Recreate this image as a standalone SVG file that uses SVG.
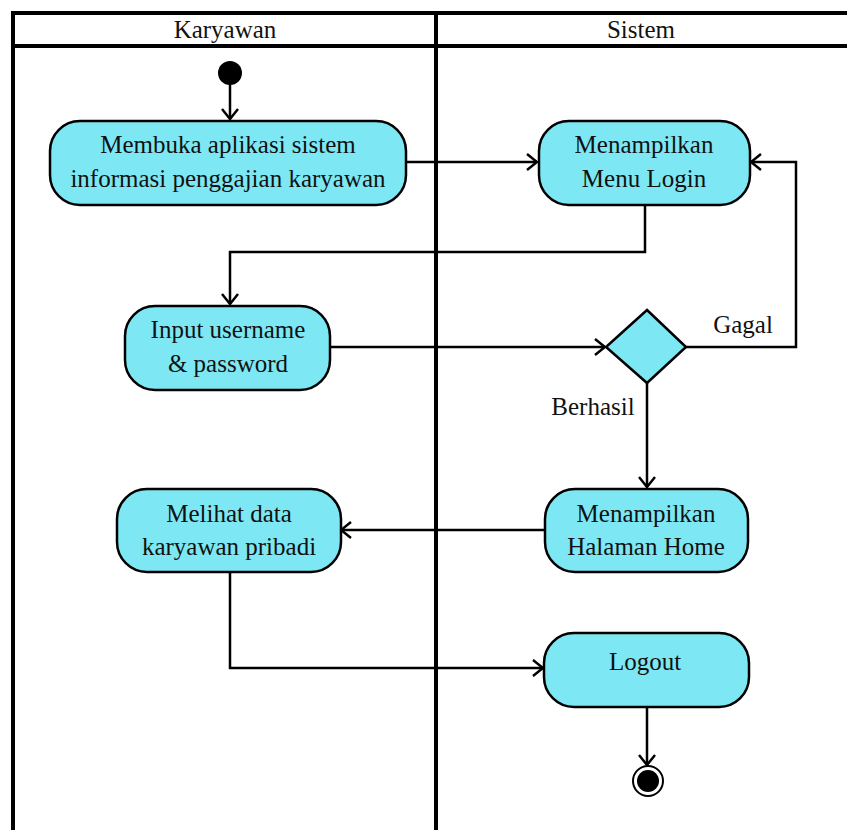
<svg xmlns="http://www.w3.org/2000/svg" width="847" height="830" viewBox="0 0 847 830">
  <style>
    .lane { stroke: #000; stroke-width: 4; fill: none; }
    .act { fill: #7de8f4; stroke: #000; stroke-width: 2.5; }
    .flow { stroke: #000; stroke-width: 2.5; fill: none; }
    text { font-family: "Liberation Serif", "Times New Roman", serif; font-size: 25px; fill: #111; text-anchor: middle; }
  </style>
  <defs>
    <marker id="open-arrow" viewBox="0 0 12 18" refX="11" refY="9" markerWidth="12" markerHeight="18" markerUnits="userSpaceOnUse" orient="auto">
      <path d="M1,1 L11,9 L1,17" fill="none" stroke="#000" stroke-width="2.5"/>
    </marker>
  </defs>
  <rect x="0" y="0" width="847" height="830" fill="#fff"/>

  <!-- swimlane frame -->
  <g id="swimlanes">
    <line class="lane" x1="13" y1="13" x2="847" y2="13"/>
    <line class="lane" x1="13" y1="46" x2="847" y2="46"/>
    <line class="lane" x1="13" y1="11" x2="13" y2="830"/>
    <line class="lane" x1="436" y1="11" x2="436" y2="830"/>
    <text x="225" y="38">Karyawan</text>
    <text x="641" y="38">Sistem</text>
  </g>

  <!-- connectors -->
  <g id="connectors">
    <path class="flow" d="M230,84 L230,119" marker-end="url(#open-arrow)"/>
    <path class="flow" d="M406,162 L537,162" marker-end="url(#open-arrow)"/>
    <path class="flow" d="M645,205 L645,252 L230,252 L230,304" marker-end="url(#open-arrow)"/>
    <path class="flow" d="M330,347 L605,347" marker-end="url(#open-arrow)"/>
    <path class="flow" d="M686,347 L796,347 L796,162 L751,162" marker-end="url(#open-arrow)"/>
    <path class="flow" d="M647,383 L647,487" marker-end="url(#open-arrow)"/>
    <path class="flow" d="M545,530 L341,530" marker-end="url(#open-arrow)"/>
    <path class="flow" d="M230,572 L230,668 L543,668" marker-end="url(#open-arrow)"/>
    <path class="flow" d="M647,707 L647,765" marker-end="url(#open-arrow)"/>
    <text x="743" y="333">Gagal</text>
    <text x="593" y="415">Berhasil</text>
  </g>

  <g id="start">
    <circle cx="230" cy="73" r="12" fill="#000"/>
  </g>

  <g id="buka-aplikasi">
    <rect class="act" x="50" y="121" width="356" height="84" rx="30"/>
    <text x="228" y="153">Membuka aplikasi sistem</text>
    <text x="228" y="187">informasi penggajian karyawan</text>
  </g>

  <g id="menu-login">
    <rect class="act" x="539" y="121" width="211" height="84" rx="30"/>
    <text x="644" y="153">Menampilkan</text>
    <text x="644" y="187">Menu Login</text>
  </g>

  <g id="input-login">
    <rect class="act" x="125" y="306" width="205" height="84" rx="30"/>
    <text x="228" y="338">Input username</text>
    <text x="228" y="372">&amp; password</text>
  </g>

  <g id="cek-login">
    <polygon class="act" points="647,310 686,347 647,383 606,347"/>
  </g>

  <g id="halaman-home">
    <rect class="act" x="545" y="489" width="203" height="83" rx="30"/>
    <text x="646" y="522">Menampilkan</text>
    <text x="646" y="555">Halaman Home</text>
  </g>

  <g id="data-pribadi">
    <rect class="act" x="117" y="489" width="224" height="83" rx="30"/>
    <text x="229" y="522">Melihat data</text>
    <text x="229" y="555">karyawan pribadi</text>
  </g>

  <g id="logout">
    <rect class="act" x="544" y="633" width="205" height="74" rx="30"/>
    <text x="645" y="670">Logout</text>
  </g>

  <g id="end">
    <circle cx="648" cy="781" r="15" fill="#fff" stroke="#000" stroke-width="2"/>
    <circle cx="648" cy="781" r="11" fill="#000"/>
  </g>
</svg>
